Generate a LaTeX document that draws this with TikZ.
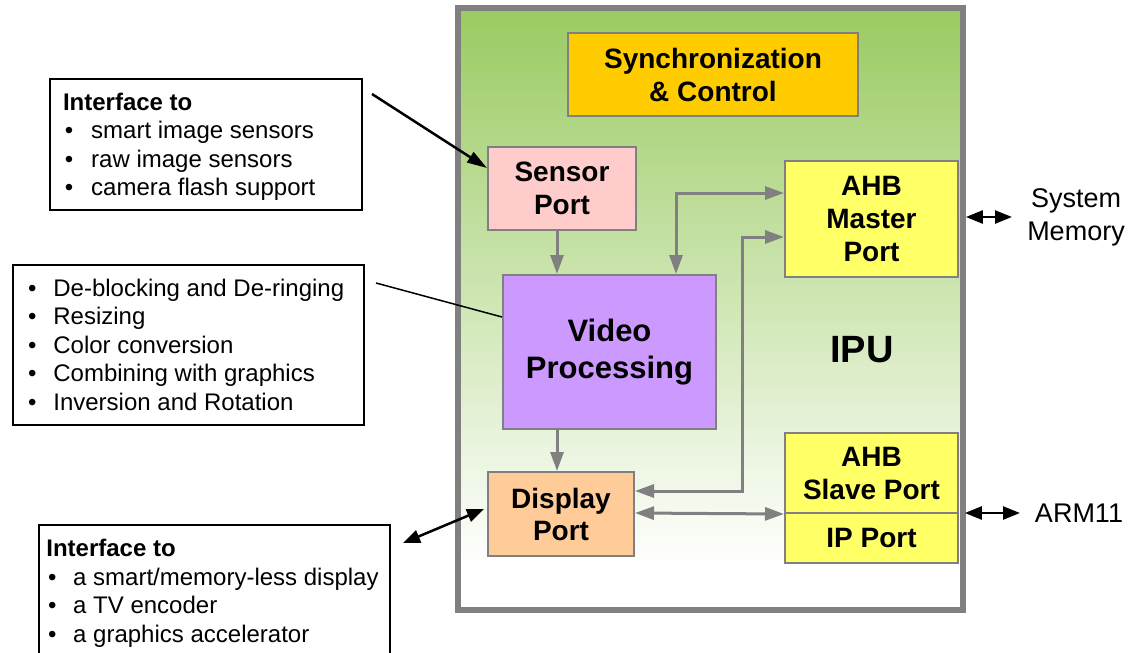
\documentclass[tikz,border=0pt]{standalone}
\usepackage{fontspec}
\setmainfont{Liberation Sans}
\usetikzlibrary{arrows.meta,calc}
\definecolor{ipugreen}{HTML}{9BCB63}
\definecolor{gborder}{HTML}{808080}
\definecolor{syncc}{HTML}{FFCC00}
\definecolor{sensc}{HTML}{FFCCCC}
\definecolor{videoc}{HTML}{CC99FF}
\definecolor{ahbc}{HTML}{FFFF66}
\definecolor{dispc}{HTML}{FFCC99}
\newcommand{\bitem}[2]{\makebox[#1][l]{•}#2}
\tikzset{
  blk/.style={draw=gborder, line width=2pt, inner sep=0pt, align=center, font=\bfseries\fontsize{28}{33}\selectfont},
  lbox/.style={draw=black, line width=1.5pt, inner sep=0pt},
  ltext/.style={inner sep=0pt, anchor=base west, align=left, font=\fontsize{24}{28.6}\selectfont},
  garrow/.style={draw=gborder, line width=3pt, -{Triangle[length=19pt,width=13pt]}},
  gdarrow/.style={draw=gborder, line width=3pt, {Triangle[length=19pt,width=13pt]}-{Triangle[length=19pt,width=13pt]}},
  barrow/.style={draw=black, line width=2.5pt, -{Triangle[length=20pt,width=12pt]}},
  bdarrow/.style={draw=black, line width=2.5pt, {Triangle[length=17pt,width=13pt]}-{Triangle[length=17pt,width=13pt]}},
}
\begin{document}
\begin{tikzpicture}[x=1pt,y=-1pt]
\useasboundingbox (0,0) rectangle (1130,653);
% IPU main box
\node[draw=gborder, line width=3.7pt, fill=white, minimum width=503, minimum height=600, inner sep=0pt] (ipu) at (710.5,309) {};
\foreach \i in {0,...,110} {
  \pgfmathsetmacro\p{100*(1-\i/110)}
  \fill[ipugreen!\p!white] (461,11+5*\i) rectangle (960,16.6+5*\i);
}
\draw[gborder, line width=3.7pt] (ipu.north west) rectangle (ipu.south east);
\node[font=\bfseries\fontsize{38}{40}\selectfont, inner sep=0pt] (ipulbl) at (862,350) {IPU};

% blocks
\node[blk, fill=syncc, minimum width=290, minimum height=83] (sync) at (713,74.5) {Synchronization\\\& Control};
\node[blk, fill=sensc, minimum width=148, minimum height=83] (sensor) at (562,188.5) {Sensor\\Port};
\node[blk, fill=videoc, minimum width=213, minimum height=154, font=\bfseries\fontsize{31}{37}\selectfont] (video) at (609.5,352) {Video\\Processing};
\node[blk, fill=ahbc, minimum width=173, minimum height=116] (ahbm) at (871.5,219) {AHB\\Master\\Port};
\node[blk, fill=ahbc, minimum width=173, minimum height=80] (ahbs) at (871.5,473) {AHB\\Slave Port};
\node[blk, fill=ahbc, minimum width=173, minimum height=50] (ipport) at (871.5,538) {IP Port};
\node[blk, fill=dispc, minimum width=146, minimum height=84, font=\bfseries\fontsize{28}{32}\selectfont] (display) at (561,514) {Display\\Port};

% gray connectors
\draw[garrow] (557,0 |- sensor.south) -- (557,0 |- video.north);
\draw[gdarrow] (ahbm.west |- 0,193) -- (676,193) -- (676,0 |- video.north);
\draw[gdarrow] (display.east |- 0,491) -- (742,491) -- (742,237) -- (ahbm.west |- 0,237);
\draw[garrow] (557,0 |- video.south) -- (557,0 |- display.north);
\draw[gdarrow] (display.east |- 0,513) -- (ahbs.south west);

% left boxes
\node[lbox, minimum width=312, minimum height=131, anchor=north west] (box1) at (49,78) {};
\node[ltext] (txt1) at (64.6,110) {\begin{tabular}[t]{@{}l@{}}
\hspace*{-1.8pt}\textbf{Interface to}\\
\bitem{26.4pt}{smart image sensors}\\
\bitem{26.4pt}{raw image sensors}\\
\bitem{26.4pt}{camera flash support}
\end{tabular}};
\node[lbox, minimum width=351, minimum height=160, anchor=north west] (box2) at (12,264) {};
\node[ltext] (txt2) at (28,296) {\begin{tabular}[t]{@{}l@{}}
\bitem{25.2pt}{De-blocking and De-ringing}\\
\bitem{25.2pt}{Resizing}\\
\bitem{25.2pt}{Color conversion}\\
\bitem{25.2pt}{Combining with graphics}\\
\bitem{25.2pt}{Inversion and Rotation}
\end{tabular}};
\draw[lbox] (39,660) |- (390,525) -- (390,660);
\coordinate (box3) at (39,525);
\node[ltext] (txt3) at (48,556.5) {\begin{tabular}[t]{@{}l@{}}
\hspace*{-1.8pt}\textbf{Interface to}\\
\bitem{25pt}{a smart/memory-less display}\\
\bitem{25pt}{a TV encoder}\\
\bitem{25pt}{a graphics accelerator}
\end{tabular}};

% black connectors
\coordinate (c1) at (372,94);
\draw[barrow] (c1) -- (sensor.west |- 0,168);
\coordinate (c2) at (376,283);
\draw[black, line width=1.5pt] (c2) -- (video.west |- 0,317);
\coordinate (c3) at (403,543);
\draw[bdarrow] (c3) -- ($(display.west |- 0,509)+(-3,0)$);

% right labels
\node[font=\fontsize{27}{33}\selectfont, align=center, inner sep=0pt] (sysmem) at (1076,217) {System\\Memory};
\draw[bdarrow] ($(ipu.east |- 0,217)+(2,0)$) -- (1012,217);
\node[font=\fontsize{27}{33}\selectfont, inner sep=0pt] (arm) at (1079,513) {ARM11};
\draw[bdarrow] ($(ipu.east |- 0,513)+(1,0)$) -- (1020,513);
\end{tikzpicture}
\end{document}
